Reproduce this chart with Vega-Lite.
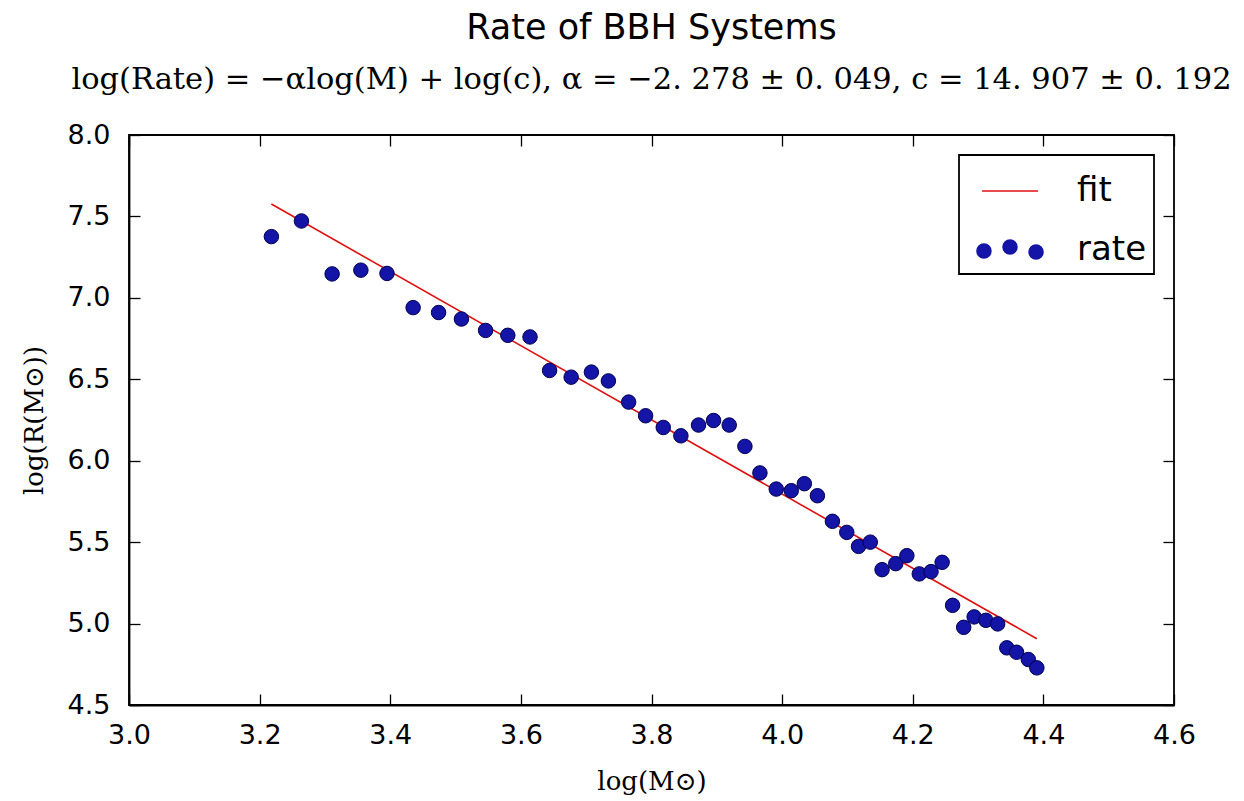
{
  "$schema": "https://vega.github.io/schema/vega-lite/v6.json",
  "autosize": "none",
  "width": 1045,
  "height": 570,
  "padding": {"left": 129, "top": 135, "right": 70, "bottom": 96},
  "background": "white",
  "title": {
    "text": "Rate of BBH Systems",
    "subtitle": "log(Rate) = −αlog(M) + log(c), α = −2. 278 ± 0. 049, c = 14. 907 ± 0. 192",
    "frame": "group",
    "anchor": "middle",
    "font": "DejaVu Sans",
    "fontSize": 35,
    "fontWeight": "normal",
    "color": "black",
    "subtitleFont": "DejaVu Serif",
    "subtitleFontSize": 30.5,
    "subtitleColor": "black",
    "subtitlePadding": 19,
    "offset": 26
  },
  "config": {
    "view": {"stroke": "black", "strokeWidth": 1.8},
    "axis": {
      "grid": false,
      "domainColor": "black",
      "domainWidth": 1.8,
      "tickColor": "black",
      "tickWidth": 1.3,
      "tickSize": 11,
      "labelColor": "black",
      "labelFont": "DejaVu Sans",
      "labelFontSize": 27,
      "titleColor": "black",
      "titleFont": "DejaVu Serif",
      "titleFontSize": 26,
      "titleFontWeight": "normal"
    }
  },
  "layer": [
    {
      "data": {"values": [
        {"x": 3.218, "y": 7.576, "series": "fit"},
        {"x": 4.390, "y": 4.907, "series": "fit"}
      ]},
      "mark": {"type": "line", "strokeWidth": 1.6},
      "encoding": {
        "x": {"field": "x", "type": "quantitative",
          "scale": {"domain": [3.0, 4.6], "nice": false, "zero": false},
          "axis": {"orient": "bottom", "values": [3.0, 3.2, 3.4, 3.6, 3.8, 4.0, 4.2, 4.4, 4.6], "format": ".1f", "ticks": false, "tickSize": 0, "labelPadding": 17, "labelFlush": false, "labelOverlap": false, "title": "log(M⊙)", "titlePadding": 20}},
        "y": {"field": "y", "type": "quantitative",
          "scale": {"domain": [4.5, 8.0], "nice": false, "zero": false},
          "axis": {"orient": "left", "values": [4.5, 5.0, 5.5, 6.0, 6.5, 7.0, 7.5, 8.0], "format": ".1f", "ticks": false, "tickSize": 0, "labelPadding": 19, "labelFlush": false, "labelOverlap": false, "title": "log(R(M⊙))", "titlePadding": 20}},
        "color": {"field": "series", "type": "nominal",
          "scale": {"domain": ["fit", "rate"], "range": ["#e01010", "#1414a6"]},
          "legend": {
            "title": null,
            "orient": "top-right",
            "offset": 20,
            "fillColor": "white",
            "strokeColor": "black",
            "cornerRadius": 0,
            "padding": 7,
            "rowPadding": 13,
            "symbolOffset": 15,
            "symbolSize": 3136,
            "symbolStrokeWidth": 1.5,
            "labelFont": "DejaVu Sans",
            "labelFontSize": 34,
            "labelColor": "black",
            "labelOffset": 38,
            "encode": {
              "legend": {"update": {"strokeWidth": {"value": 1.8}}},
              "symbols": {
                "update": {
                  "shape": {"signal": "datum.value === 'rate' ? 'M-0.68,0.036A0.25,0.25,0,1,0,-1.18,0.036A0.25,0.25,0,1,0,-0.68,0.036Z M0.25,-0.107A0.25,0.25,0,1,0,-0.25,-0.107A0.25,0.25,0,1,0,0.25,-0.107Z M1.18,0.071A0.25,0.25,0,1,0,0.68,0.071A0.25,0.25,0,1,0,1.18,0.071Z' : 'stroke'"},
                  "fill": {"signal": "datum.value === 'rate' ? '#1414a6' : 'transparent'"},
                  "stroke": {"signal": "datum.value === 'rate' ? '#000050' : '#e01010'"},
                  "opacity": {"value": 1}
                }
              }
            }
          }}
      }
    },
    {
      "data": {"values": [
        {"x": 3.218, "y": 7.376, "series": "rate"},
        {"x": 3.264, "y": 7.472, "series": "rate"},
        {"x": 3.311, "y": 7.147, "series": "rate"},
        {"x": 3.355, "y": 7.170, "series": "rate"},
        {"x": 3.395, "y": 7.150, "series": "rate"},
        {"x": 3.435, "y": 6.940, "series": "rate"},
        {"x": 3.474, "y": 6.910, "series": "rate"},
        {"x": 3.509, "y": 6.870, "series": "rate"},
        {"x": 3.546, "y": 6.800, "series": "rate"},
        {"x": 3.580, "y": 6.770, "series": "rate"},
        {"x": 3.614, "y": 6.760, "series": "rate"},
        {"x": 3.644, "y": 6.554, "series": "rate"},
        {"x": 3.677, "y": 6.513, "series": "rate"},
        {"x": 3.708, "y": 6.544, "series": "rate"},
        {"x": 3.734, "y": 6.490, "series": "rate"},
        {"x": 3.765, "y": 6.360, "series": "rate"},
        {"x": 3.791, "y": 6.276, "series": "rate"},
        {"x": 3.818, "y": 6.204, "series": "rate"},
        {"x": 3.845, "y": 6.153, "series": "rate"},
        {"x": 3.872, "y": 6.219, "series": "rate"},
        {"x": 3.895, "y": 6.247, "series": "rate"},
        {"x": 3.919, "y": 6.219, "series": "rate"},
        {"x": 3.943, "y": 6.088, "series": "rate"},
        {"x": 3.966, "y": 5.925, "series": "rate"},
        {"x": 3.991, "y": 5.826, "series": "rate"},
        {"x": 4.014, "y": 5.816, "series": "rate"},
        {"x": 4.034, "y": 5.859, "series": "rate"},
        {"x": 4.054, "y": 5.785, "series": "rate"},
        {"x": 4.077, "y": 5.628, "series": "rate"},
        {"x": 4.099, "y": 5.560, "series": "rate"},
        {"x": 4.117, "y": 5.474, "series": "rate"},
        {"x": 4.135, "y": 5.500, "series": "rate"},
        {"x": 4.153, "y": 5.331, "series": "rate"},
        {"x": 4.174, "y": 5.368, "series": "rate"},
        {"x": 4.191, "y": 5.417, "series": "rate"},
        {"x": 4.210, "y": 5.305, "series": "rate"},
        {"x": 4.228, "y": 5.319, "series": "rate"},
        {"x": 4.245, "y": 5.376, "series": "rate"},
        {"x": 4.261, "y": 5.112, "series": "rate"},
        {"x": 4.278, "y": 4.977, "series": "rate"},
        {"x": 4.294, "y": 5.041, "series": "rate"},
        {"x": 4.312, "y": 5.020, "series": "rate"},
        {"x": 4.330, "y": 4.998, "series": "rate"},
        {"x": 4.344, "y": 4.851, "series": "rate"},
        {"x": 4.359, "y": 4.824, "series": "rate"},
        {"x": 4.377, "y": 4.779, "series": "rate"},
        {"x": 4.390, "y": 4.728, "series": "rate"}
      ]},
      "mark": {"type": "point", "filled": true, "shape": "circle", "size": 210, "opacity": 1, "stroke": "#000050", "strokeWidth": 1},
      "encoding": {
        "x": {"field": "x", "type": "quantitative",
          "axis": {"orient": "top", "offset": -570, "values": [3.0, 3.2, 3.4, 3.6, 3.8, 4.0, 4.2, 4.4, 4.6], "labels": false, "domain": false, "title": null}},
        "y": {"field": "y", "type": "quantitative",
          "axis": {"orient": "right", "offset": -1045, "values": [4.5, 5.0, 5.5, 6.0, 6.5, 7.0, 7.5, 8.0], "labels": false, "domain": false, "title": null}},
        "color": {"field": "series", "type": "nominal"}
      }
    },
    {
      "data": {"values": [
        {"x": 3.218, "y": 7.576},
        {"x": 4.390, "y": 4.907}
      ]},
      "mark": {"type": "line", "opacity": 0, "strokeOpacity": 0},
      "encoding": {
        "x": {"field": "x", "type": "quantitative",
          "axis": {"orient": "bottom", "offset": -570, "values": [3.0, 3.2, 3.4, 3.6, 3.8, 4.0, 4.2, 4.4, 4.6], "labels": false, "domain": false, "title": null}},
        "y": {"field": "y", "type": "quantitative",
          "axis": {"orient": "left", "offset": -1045, "values": [4.5, 5.0, 5.5, 6.0, 6.5, 7.0, 7.5, 8.0], "labels": false, "domain": false, "title": null}}
      }
    }
  ],
  "resolve": {"axis": {"x": "independent", "y": "independent"}}
}
